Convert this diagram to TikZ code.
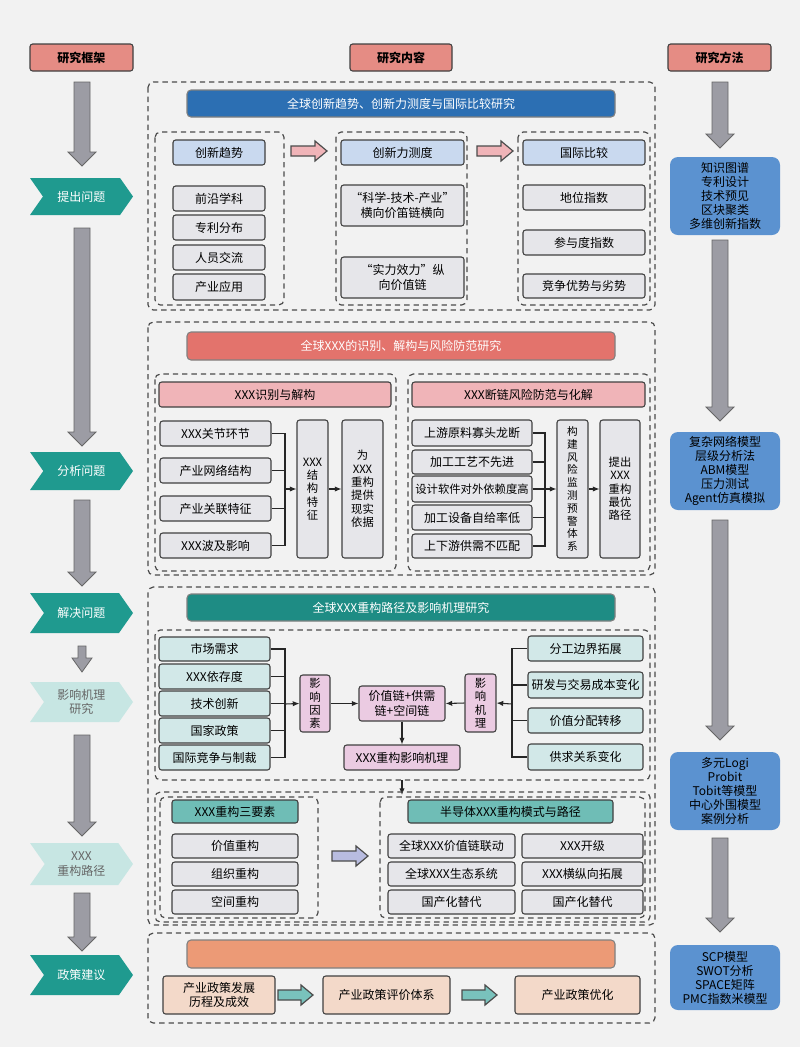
\documentclass[tikz,border=0pt]{standalone}
\usepackage{fontspec}
\setmainfont{Noto Sans CJK SC}
\usetikzlibrary{shapes.symbols,arrows.meta}
\definecolor{teal1}{HTML}{1F9A8F}
\definecolor{bluebar}{HTML}{2C6FB3}
\definecolor{lblue}{HTML}{C9D9EF}
\definecolor{itemg}{HTML}{E6E6EA}
\definecolor{redbar}{HTML}{E3736C}
\definecolor{pinkh}{HTML}{F0B4B8}
\definecolor{tealbar}{HTML}{1E8C84}
\definecolor{lteal}{HTML}{D2E8E8}
\definecolor{lpink}{HTML}{EBCBE2}
\definecolor{tealh}{HTML}{6FBDB6}
\definecolor{orng}{HTML}{EC9A76}
\definecolor{peach}{HTML}{F3D9C9}
\definecolor{mblue}{HTML}{5B92D0}
\definecolor{salm}{HTML}{E58C84}
\definecolor{garr}{HTML}{9C9CA4}
\definecolor{varrc}{HTML}{B8BCE0}
\newcommand\B[7]{\node[#6,minimum width={(#4-#2)*0.75pt},minimum height={(#5-#3)*0.75pt}] (#1) at ({(#2+#4)/2},{(#3+#5)/2}) {#7};}
% vertical block arrow: x, ytop, ybottom, half shaft width
\newcommand\VA[4]{\filldraw[draw=black!60,fill=garr,line width=0.6pt] ({#1-#4},#2) -- ({#1+#4},#2) -- ({#1+#4},{#3-14}) -- ({#1+#4+6},{#3-14}) -- (#1,#3) -- ({#1-#4-6},{#3-14}) -- ({#1-#4},{#3-14}) -- cycle;}
% horizontal block arrow: xleft, xright, ycenter, colour
\newcommand\HA[4]{\filldraw[draw=black!70,fill=#4,line width=0.9pt] (#1,{#3-5}) -- ({#2-12},{#3-5}) -- ({#2-12},{#3-10}) -- (#2,#3) -- ({#2-12},{#3+10}) -- ({#2-12},{#3+5}) -- (#1,{#3+5}) -- cycle;}
\begin{document}
\begin{tikzpicture}[x=0.75pt,y=-0.75pt,
 box/.style={draw=black!75,line width=0.8pt,rounded corners=2pt,inner sep=0pt,align=center,font=\fontsize{9}{11}\selectfont},
 it/.style={box,fill=itemg},
 dsh/.style={draw=black!70,line width=0.9pt,dash pattern=on 4pt off 3pt,rounded corners=4pt},
 bar/.style={box,draw=black!50,text=white,rounded corners=3pt},
 hdr/.style={box,fill=salm,font=\bfseries\fontsize{9}{11}\selectfont},
 chev/.style={signal,signal to=east,signal from=west,fill=teal1,text=white,inner sep=0pt,align=center,font=\fontsize{9}{11}\selectfont,signal pointer angle=110},
 meth/.style={box,draw=none,fill=mblue,rounded corners=6pt,font=\fontsize{9}{10.5}\selectfont},
 vt/.style={box,font=\fontsize{8.5}{10}\selectfont},
 con/.style={line width=0.8pt,black!85},
 ar/.style={con,-{Latex[length=5pt,width=4pt]}}]
\fill[gray!10] (0,0) rectangle (800,1047);
\useasboundingbox (0,0) rectangle (800,1047);
% headers
\B{h1}{30}{44}{133}{71}{hdr}{研究框架}
\B{h2}{350}{44}{452}{71}{hdr}{研究内容}
\B{h3}{668}{44}{771}{71}{hdr}{研究方法}
% left chevrons
\B{c1}{30}{178}{133}{215}{chev}{提出问题}
\B{c2}{30}{452}{133}{490}{chev}{分析问题}
\B{c3}{30}{593}{133}{633}{chev}{解决问题}
\B{c4}{30}{682}{133}{722}{chev,fill=teal1!25,text=black!60}{影响机理\\研究}
\B{c5}{30}{843}{133}{885}{chev,fill=teal1!25,text=black!60}{XXX\\重构路径}
\B{c6}{30}{955}{133}{995}{chev}{政策建议}
\VA{82}{82}{166}{8}
\VA{82}{228}{446}{8}
\VA{82}{500}{586}{8}
\VA{82}{646}{672}{4}
\VA{82}{735}{836}{8}
\VA{82}{893}{951}{8}
% right methods
\B{m1}{670}{157}{780}{235}{meth}{知识图谱\\专利设计\\技术预见\\区块聚类\\多维创新指数}
\B{m2}{670}{432}{780}{510}{meth}{复杂网络模型\\层级分析法\\ABM模型\\压力测试\\Agent仿真模拟}
\B{m3}{670}{752}{780}{830}{meth}{多元Logi\\Probit\\Tobit等模型\\中心外围模型\\案例分析}
\B{m4}{670}{945}{780}{1010}{meth}{SCP模型\\SWOT分析\\SPACE矩阵\\PMC指数米模型}
\VA{720}{82}{148}{8}
\VA{720}{240}{421}{8}
\VA{720}{520}{740}{8}
\VA{720}{838}{932}{8}
% ===== section 1
\draw[dsh] (148,82) rectangle (655,310);
\B{t1}{187}{90}{615}{117}{bar,fill=bluebar}{全球创新趋势、创新力测度与国际比较研究}
\draw[dsh] (155,132) rectangle (284,305);
\draw[dsh] (336,132) rectangle (467,305);
\draw[dsh] (518,132) rectangle (650,305);
\B{a0}{173}{140}{265}{165}{box,fill=lblue}{创新趋势}
\B{b0}{341}{140}{464}{165}{box,fill=lblue}{创新力测度}
\B{d0}{523}{140}{645}{165}{box,fill=lblue}{国际比较}
\B{a1}{173}{186}{265}{211}{it}{前沿学科}
\B{a2}{173}{215}{265}{240}{it}{专利分布}
\B{a3}{173}{245}{265}{270}{it}{人员交流}
\B{a4}{173}{274}{265}{300}{it}{产业应用}
\B{b1}{341}{185}{464}{226}{it}{“科学-技术-产业”\\横向价笛链横向}
\B{b2}{341}{257}{464}{298}{it}{“实力效力”纵\\向价值链}
\B{d1}{523}{185}{645}{210}{it}{地位指数}
\B{d2}{523}{230}{645}{255}{it}{参与度指数}
\B{d3}{523}{274}{645}{298}{it}{竞争优势与劣势}
\HA{291}{327}{151}{pinkh}
\HA{477}{513}{151}{pinkh}
% ===== section 2
\draw[dsh] (148,322) rectangle (655,575);
\B{t2}{187}{332}{615}{360}{bar,fill=redbar}{全球XXX的识别、解构与风险防范研究}
\draw[dsh] (155,374) rectangle (396,571);
\draw[dsh] (408,374) rectangle (650,571);
\B{e0}{159}{382}{391}{407}{box,fill=pinkh}{XXX识别与解构}
\B{f0}{412}{382}{645}{407}{box,fill=pinkh}{XXX断链风险防范与化解}
\B{e1}{160}{421}{271}{446}{it}{XXX关节环节}
\B{e2}{160}{458}{271}{483}{it}{产业网络结构}
\B{e3}{160}{496}{271}{521}{it}{产业关联特征}
\B{e4}{160}{533}{271}{558}{it}{XXX波及影响}
\B{ev}{297}{420}{328}{558}{vt,fill=itemg}{XXX\\结\\构\\特\\征}
\B{ew}{342}{420}{383}{558}{vt,fill=itemg}{为\\XXX\\重构\\提供\\现实\\依据}
\B{f1}{412}{420}{532}{446}{it}{上游原料寡头龙断}
\B{f2}{412}{450}{532}{474}{it}{加工工艺不先进}
\B{f3}{412}{476}{532}{502}{it,font=\fontsize{8.5}{10}\selectfont}{设计软件对外依赖度高}
\B{f4}{412}{505}{532}{530}{it}{加工设备自给率低}
\B{f5}{412}{534}{532}{558}{it}{上下游供需不匹配}
\B{fv}{557}{420}{588}{558}{vt,fill=itemg,font=\fontsize{8}{9.6}\selectfont}{构\\建\\风\\险\\监\\测\\预\\警\\体\\系}
\B{fw}{600}{420}{640}{558}{vt,fill=itemg}{提出\\XXX\\重构\\最优\\路径}
\coordinate (j1) at (285,489);
\foreach \n in {e1,e2,e3,e4} \draw[con] (\n.east) -| (j1);
\draw[ar] (j1) -- (ev.west);
\draw[ar] (ev.east) -- (ew.west);
\coordinate (j2) at (545,489);
\foreach \n in {f1,f2,f3,f4,f5} \draw[con] (\n.east) -| (j2);
\draw[ar] (j2) -- (fv.west);
\draw[ar] (fv.east) -- (fw.west);
% ===== section 3
\draw[dsh] (148,587) rectangle (655,925);
\B{t3}{187}{594}{615}{621}{bar,fill=tealbar}{全球XXX重构路径及影响机理研究}
\draw[dsh] (155,630) rectangle (650,780);
\B{g1}{159}{637}{270}{661}{box,fill=lteal}{市场需求}
\B{g2}{159}{664}{270}{689}{box,fill=lteal}{XXX依存度}
\B{g3}{159}{691}{270}{716}{box,fill=lteal}{技术创新}
\B{g4}{159}{718}{270}{743}{box,fill=lteal}{国家政策}
\B{g5}{159}{745}{270}{770}{box,fill=lteal}{国际竞争与制裁}
\B{yf}{300}{675}{330}{732}{vt,fill=lpink}{影\\响\\因\\素}
\B{vc}{359}{686}{445}{721}{box,fill=lpink}{价值链+供需\\链+空间链}
\B{yj}{465}{674}{496}{732}{vt,fill=lpink}{影\\响\\机\\理}
\B{xm}{344}{745}{460}{770}{box,fill=lpink}{XXX重构影响机理}
\B{k1}{528}{636}{643}{661}{box,fill=lteal}{分工边界拓展}
\B{k2}{528}{672}{643}{698}{box,fill=lteal}{研发与交易成本变化}
\B{k3}{528}{708}{643}{733}{box,fill=lteal}{价值分配转移}
\B{k4}{528}{744}{643}{770}{box,fill=lteal}{供求关系变化}
\coordinate (j3) at (285,704);
\foreach \n in {g1,g2,g3,g4,g5} \draw[con] (\n.east) -| (j3);
\draw[ar] (j3) -- (yf.west);
\draw[ar] (yf.east) -- (vc.west);
\coordinate (j4) at (512,704);
\foreach \n in {k1,k2,k3,k4} \draw[con] (\n.west) -| (j4);
\draw[ar] (j4) -- (yj.east);
\draw[ar] (yj.west) -- (vc.east);
\draw[ar] (vc.south) -- (xm.north);
\coordinate (q1) at (402,780);
\coordinate (q2) at (402,795);
\draw[ar] (q1) -- (q2);
\draw[dsh] (155,792) rectangle (650,922);
\draw[dsh] (160,797) rectangle (318,918);
\draw[dsh] (380,797) rectangle (645,918);
\B{s0}{172}{800}{298}{823}{box,fill=tealh}{XXX重构三要素}
\B{s1}{172}{834}{298}{858}{it}{价值重构}
\B{s2}{172}{862}{298}{886}{it}{组织重构}
\B{s3}{172}{890}{298}{914}{it}{空间重构}
\HA{332}{368}{856}{varrc}
\B{u0}{408}{800}{613}{823}{box,fill=tealh}{半导体XXX重构模式与路径}
\B{u1}{388}{834}{515}{858}{it}{全球XXX价值链联动}
\B{u2}{388}{862}{515}{886}{it}{全球XXX生态系统}
\B{u3}{388}{890}{515}{914}{it}{国产化替代}
\B{w1}{522}{834}{643}{858}{it}{XXX开级}
\B{w2}{522}{862}{643}{886}{it}{XXX横纵向拓展}
\B{w3}{522}{890}{643}{914}{it}{国产化替代}
% ===== section 4
\draw[dsh] (148,933) rectangle (655,1023);
\B{t4}{187}{940}{615}{968}{bar,fill=orng}{}
\B{z1}{163}{976}{275}{1014}{box,fill=peach}{产业政策发展\\历程及成效}
\B{z2}{323}{976}{450}{1014}{box,fill=peach}{产业政策评价体系}
\B{z3}{515}{976}{640}{1014}{box,fill=peach}{产业政策优化}
\HA{278}{313}{995}{teal1!60}
\HA{462}{497}{995}{teal1!60}
\end{tikzpicture}
\end{document}
